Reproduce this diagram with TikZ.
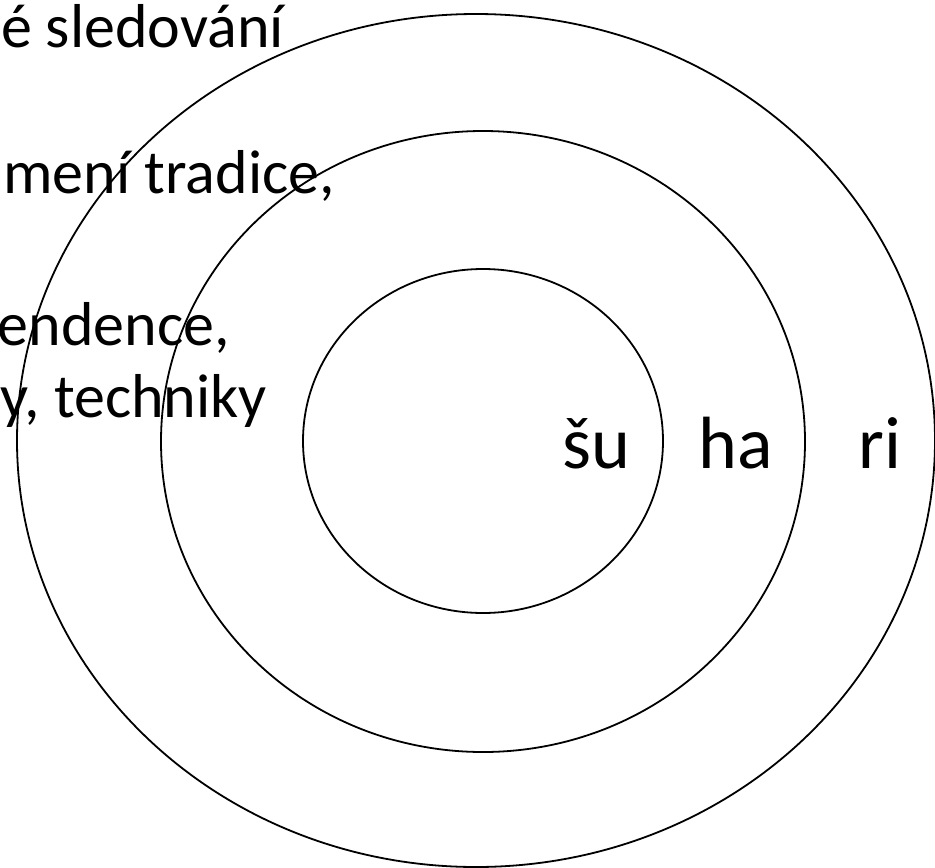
\documentclass[tikz,border=0pt]{standalone}
\usepackage{fontspec}
\setmainfont{Carlito}
\tikzset{
  ring/.style={
    draw=black,
    line width=1.8pt,
  },
  level label/.style={
    font=\fontsize{74}{88}\selectfont,
    anchor=base,
    inner sep=0pt,
  },
  side text/.style={
    font=\fontsize{62}{74}\selectfont,
    anchor=base east,
    inner sep=0pt,
  }
}

\begin{document}
\begin{tikzpicture}[x=1pt, y=-1pt]
        \useasboundingbox (0,0) rectangle (935,868);
        \clip (0,0) rectangle (935,868);

        \node [side text] (t1) at (284,47) {é sledování};
        \node [side text] (t2) at (335,193) {mení tradice,};
        \node [side text] (t3) at (230,345) {endence,};
        \node [side text] (t4) at (267,417) {y, techniky};

        \draw [ring] (476,440.5) ellipse [x radius=459, y radius=426.5];
        \draw [ring] (483,441.5) ellipse [x radius=322, y radius=310.5];
        \draw [ring] (483,441) ellipse [x radius=180, y radius=172];

        \node [level label] (shu) at (596,468) {šu};
        \node [level label] (ha) at (736,468) {ha};
        \node [level label] (ri) at (880,468) {ri};
      \end{tikzpicture}
\end{document}
